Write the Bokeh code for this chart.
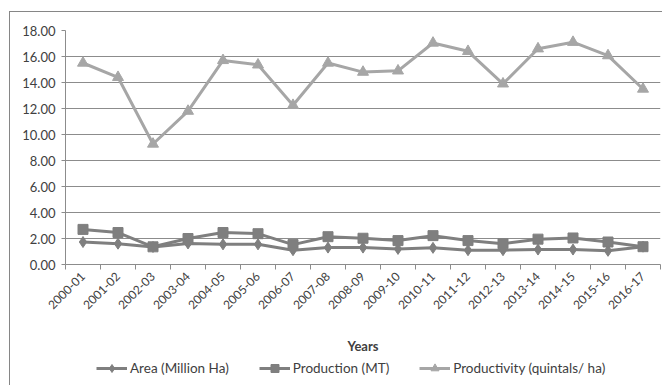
from bokeh.plotting import figure
from bokeh.layouts import column
from bokeh.models import (FixedTicker, Legend, LegendItem, Range1d,
                          NumeralTickFormatter)
from bokeh.embed import file_html
from bokeh.resources import INLINE
import math

years = ["2000-01", "2001-02", "2002-03", "2003-04", "2004-05", "2005-06", "2006-07",
         "2007-08", "2008-09", "2009-10", "2010-11", "2011-12", "2012-13", "2013-14",
         "2014-15", "2015-16", "2016-17"]
area = [1.73, 1.60, 1.35, 1.62, 1.55, 1.55, 1.10, 1.30, 1.30, 1.20, 1.28, 1.10, 1.10,
        1.15, 1.15, 1.05, 1.37]
production = [2.70, 2.46, 1.36, 2.00, 2.46, 2.37, 1.53, 2.14, 2.02, 1.84, 2.22, 1.84,
              1.60, 1.95, 2.04, 1.73, 1.37]
productivity = [15.5, 14.4, 9.27, 11.8, 15.7, 15.36, 12.25, 15.5, 14.8, 14.9, 17.04,
                16.4, 13.9, 16.6, 17.1, 16.07, 13.5]
y_ticks = [0, 2, 4, 6, 8, 10, 12, 14, 16, 18]
series_names = ["Area (Million Ha)", "Production (MT)", "Productivity (quintals/ ha)"]

FONT = "Lato"
DARK = "#7F7F7F"
LIGHT = "#A6A6A6"
GRID = "#8C8C8C"
TXT = "#404040"

xs = [i + 0.5 for i in range(len(years))]
series = [area, production, productivity]

p = figure(width=653, height=344, output_backend="svg", toolbar_location=None,
           x_range=Range1d(0, len(years)), y_range=Range1d(0, 18),
           min_border_left=55, min_border_right=3, min_border_top=18, min_border_bottom=90)
p.outline_line_color = None
p.background_fill_color = "white"
p.border_fill_color = "white"

# x axis
p.xaxis.ticker = FixedTicker(ticks=xs, minor_ticks=list(range(len(years) + 1)))
p.xaxis.major_label_overrides = {x: y for x, y in zip(xs, years)}
p.xaxis.major_label_orientation = math.pi / 4
p.xaxis.major_tick_line_color = None
p.xaxis.minor_tick_line_color = GRID
p.xaxis.minor_tick_in = 0
p.xaxis.minor_tick_out = 5
p.xaxis.axis_line_color = GRID
p.xaxis.major_label_text_font = FONT
p.xaxis.major_label_text_font_size = "12px"
p.xaxis.major_label_text_color = TXT
p.xaxis.major_label_standoff = 4
p.xaxis.axis_label = "Years"
p.xaxis.axis_label_text_font = FONT
p.xaxis.axis_label_text_font_style = "bold"
p.xaxis.axis_label_text_font_size = "13px"
p.xaxis.axis_label_text_color = TXT
p.xaxis.axis_label_standoff = 22

# y axis
p.yaxis.ticker = FixedTicker(ticks=y_ticks)
p.yaxis.formatter = NumeralTickFormatter(format="0.00")
p.yaxis.major_tick_in = 0
p.yaxis.major_tick_out = 4
p.yaxis.minor_tick_line_color = None
p.yaxis.axis_line_color = GRID
p.yaxis.major_tick_line_color = GRID
p.yaxis.major_label_text_font = FONT
p.yaxis.major_label_text_font_size = "13px"
p.yaxis.major_label_text_color = TXT
p.yaxis.major_label_standoff = 6

p.xgrid.grid_line_color = None
p.ygrid.ticker = FixedTicker(ticks=y_ticks)
p.ygrid.grid_line_color = GRID
p.ygrid.grid_line_width = 1

styles = [("diamond", 11, DARK), ("square", 10, DARK), ("triangle", 11, LIGHT)]
for vals, (mk, sz, col) in zip(series, styles):
    p.line(xs, vals, line_color=col, line_width=3)
    p.scatter(xs, vals, marker=mk, size=sz, fill_color=col, line_color=col)

# legend strip: a small figure showing the same series (drawn out of its view)
lg = figure(width=653, height=30, output_backend="svg", toolbar_location=None,
            x_axis_type=None, y_axis_type=None,
            x_range=Range1d(-100, -99), y_range=Range1d(-100, -99),
            min_border_left=0, min_border_right=0, min_border_top=0, min_border_bottom=0)
lg.outline_line_color = None
lg.xgrid.grid_line_color = None
lg.ygrid.grid_line_color = None
items = []
for name, vals, (mk, sz, col) in zip(series_names, series, styles):
    r1 = lg.line(xs, vals, line_color=col, line_width=3)
    r2 = lg.scatter(xs, vals, marker=mk, size=sz, fill_color=col, line_color=col)
    items.append(LegendItem(label=name, renderers=[r1, r2]))
legend = Legend(items=items, orientation="horizontal", location=(31, 8))
legend.label_text_font = FONT
legend.label_text_font_size = "13.5px"
legend.label_text_color = TXT
legend.glyph_width = 31
legend.spacing = 30
legend.padding = 2
legend.margin = 0
legend.label_standoff = 3
legend.border_line_color = None
legend.background_fill_alpha = 0
lg.add_layout(legend)

layout = column(p, lg, spacing=0)
layout.styles = {"margin-left": "9px", "margin-top": "11px",
                 "border-left": "1px solid #868686", "border-top": "1px solid #868686"}

open("out.html", "w").write(file_html(layout, INLINE))
